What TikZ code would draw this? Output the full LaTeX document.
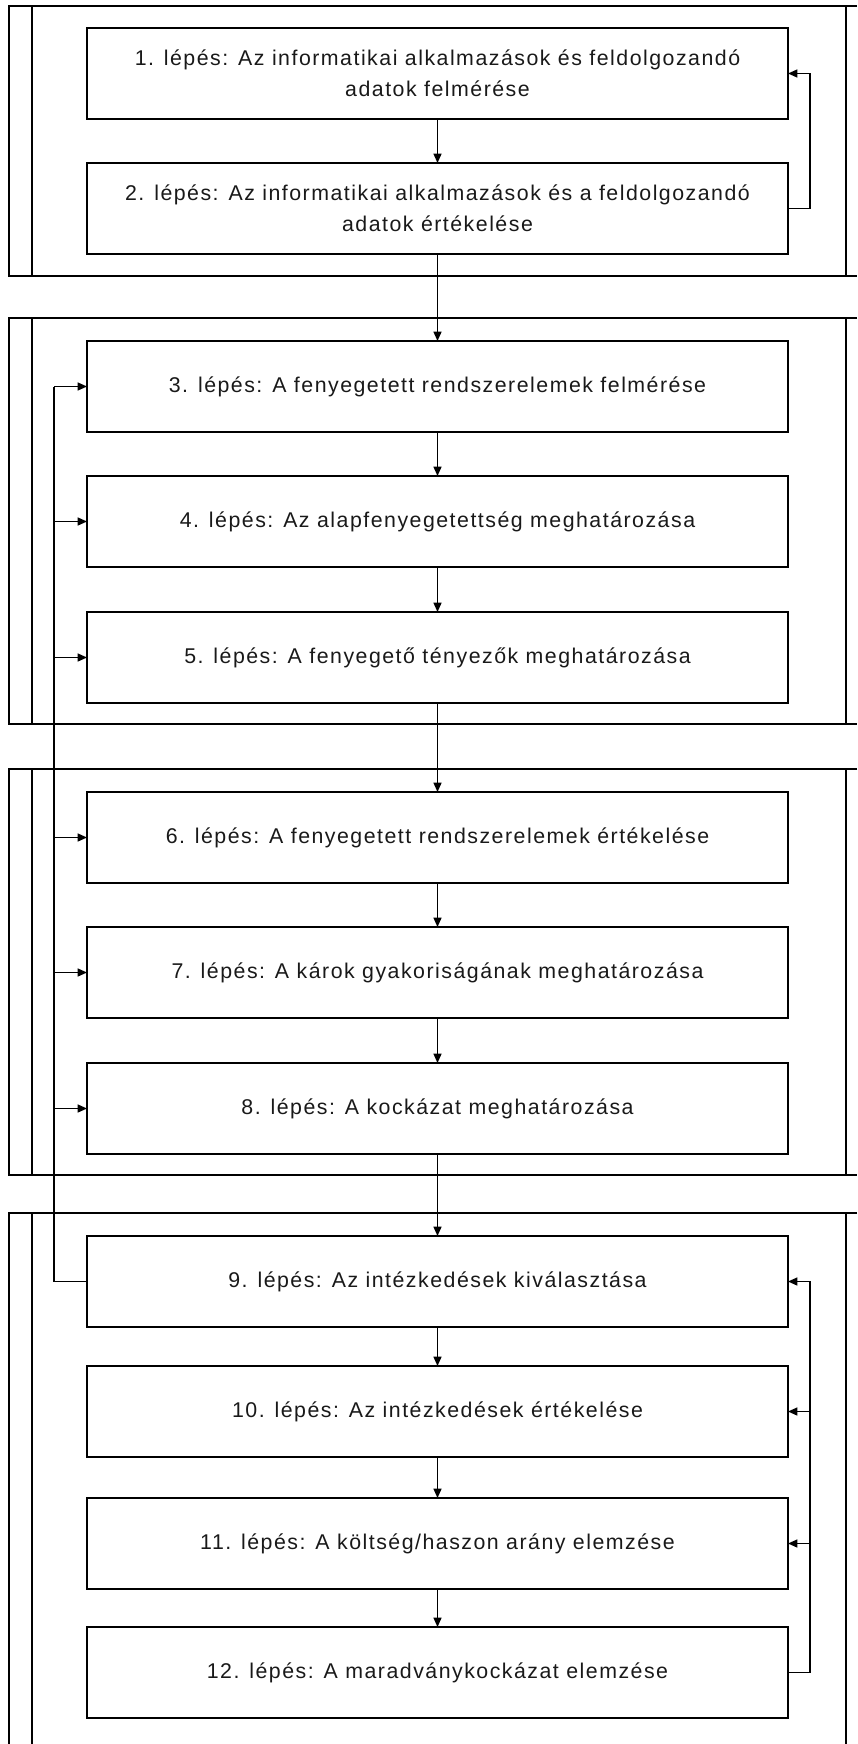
\documentclass[tikz,border=0pt]{standalone}
\usepackage{fontspec}
\setmainfont{Liberation Sans}
\newfontfamily\boxfont[LetterSpace=7]{Liberation Sans}
\usetikzlibrary{arrows.meta}
\begin{document}
\begin{tikzpicture}[x=0.75pt,y=-0.75pt,
  line width=1pt,
  stepbox/.style={draw, rectangle, minimum width=525.75pt, minimum height=68.25pt,
    inner sep=0pt, outer sep=0pt, align=center,
    font=\boxfont\fontsize{16pt}{23.25pt}\selectfont, text=black!90},
  arr/.style={-{Triangle[length=7pt,width=6pt]}},
  frameline/.style={line width=1pt}]
\useasboundingbox (0,0) rectangle (857,1744);
% group frames
\draw[frameline] (857,6) -- (9,6) -- (9,276) -- (857,276);
\draw[frameline] (32,6) -- (32,276);
\draw[frameline] (846,6) -- (846,276);
\draw[frameline] (857,318) -- (9,318) -- (9,724) -- (857,724);
\draw[frameline] (32,318) -- (32,724);
\draw[frameline] (846,318) -- (846,724);
\draw[frameline] (857,769) -- (9,769) -- (9,1175) -- (857,1175);
\draw[frameline] (32,769) -- (32,1175);
\draw[frameline] (846,769) -- (846,1175);
\draw[frameline] (857,1213) -- (9,1213) -- (9,1744);
\draw[frameline] (32,1213) -- (32,1744);
\draw[frameline] (846,1213) -- (846,1744);
% steps
\node[stepbox] (b1) at (437.5,73.5) {1. lépés: Az informatikai alkalmazások és feldolgozandó\\adatok felmérése};
\node[stepbox] (b2) at (437.5,208.5) {2. lépés: Az informatikai alkalmazások és a feldolgozandó\\adatok értékelése};
\node[stepbox] (b3) at (437.5,386.5) {3. lépés: A fenyegetett rendszerelemek felmérése};
\node[stepbox] (b4) at (437.5,521.5) {4. lépés: Az alapfenyegetettség meghatározása};
\node[stepbox] (b5) at (437.5,657.5) {5. lépés: A fenyegető tényezők meghatározása};
\node[stepbox] (b6) at (437.5,837.5) {6. lépés: A fenyegetett rendszerelemek értékelése};
\node[stepbox] (b7) at (437.5,972.5) {7. lépés: A károk gyakoriságának meghatározása};
\node[stepbox] (b8) at (437.5,1108.5) {8. lépés: A kockázat meghatározása};
\node[stepbox] (b9) at (437.5,1281.5) {9. lépés: Az intézkedések kiválasztása};
\node[stepbox] (b10) at (437.5,1411.5) {10. lépés: Az intézkedések értékelése};
\node[stepbox] (b11) at (437.5,1543.5) {11. lépés: A költség/haszon arány elemzése};
\node[stepbox] (b12) at (437.5,1672.5) {12. lépés: A maradványkockázat elemzése};
% main flow
\foreach \a/\b in {b1/b2,b2/b3,b3/b4,b4/b5,b5/b6,b6/b7,b7/b8,b8/b9,b9/b10,b10/b11,b11/b12}
  \draw[arr] (\a.south) -- (\b.north);
% loop-back lines
\coordinate (L) at (54,0);
\coordinate (R) at (810,0);
\draw (b9.west) -- (b9.west -| L) -- (b3.west -| L);
\foreach \b in {b3,b4,b5,b6,b7,b8}
  \draw[arr] (\b.west -| L) -- (\b.west);
\draw[arr] (b2.east) -- (b2.east -| R) |- (b1.east);
\draw[arr] (b12.east) -- (b12.east -| R) |- (b9.east);
\draw[arr] (b10.east -| R) -- (b10.east);
\draw[arr] (b11.east -| R) -- (b11.east);
\end{tikzpicture}
\end{document}
